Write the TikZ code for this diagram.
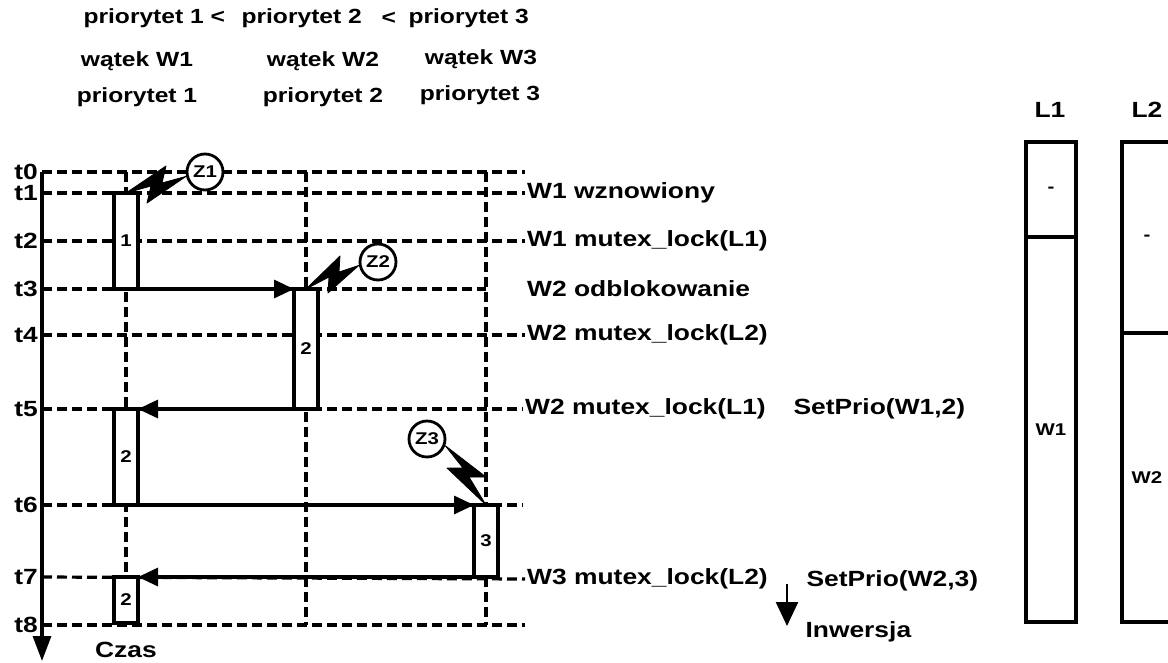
\documentclass[tikz,border=0pt]{standalone}
\usepackage{fontspec}
\setmainfont{Liberation Sans}[FakeStretch=1.2]
\usetikzlibrary{arrows.meta}

\tikzset{
  every node/.style={font=\bfseries\fontsize{22}{26}\selectfont},
  hfont/.style={font=\bfseries\fontsize{20.5}{24}\selectfont},
  tfont/.style={font=\bfseries\fontsize{22}{24}\selectfont, anchor=east, inner sep=4pt},
  small/.style={font=\bfseries\fontsize{17}{20}\selectfont},
  dline/.style={line width=3.2pt, dash pattern=on 10pt off 5pt},
  runbox/.style={draw, line width=3.2pt, fill=white, minimum width=24pt, inner sep=0pt, outer sep=0pt, small},
  lockbox/.style={draw, line width=3.2pt, minimum width=50pt, inner sep=0pt, outer sep=0pt, small},
  zcirc/.style={draw, fill=white, circle, line width=2.8pt, minimum size=36pt, inner sep=0pt, small},
  msg/.style={-{Triangle[length=20pt,width=18pt]}, line width=3.2pt},
  bolt/.style={fill=black, draw=black, line width=0.8pt, line join=round},
}

\begin{document}
\begin{tikzpicture}[x=1pt, y=-1pt]
    \useasboundingbox (0,0) rectangle (1168,662);

    % Priorities of the threads
    \node[hfont, anchor=west] (prio1) at (80,18) {priorytet 1 <};
    \node[hfont, anchor=west] (prio2) at (238,18) {priorytet 2};
    \node[hfont, anchor=west] (less2) at (378,18) {<};
    \node[hfont, anchor=west] (prio3) at (405,18) {priorytet 3};
    \node[hfont] (th1) at (137,61) {wątek W1};
    \node[hfont] (pr1) at (137,97) {priorytet 1};
    \node[hfont] (th2) at (323,61) {wątek W2};
    \node[hfont] (pr2) at (323,97) {priorytet 2};
    \node[hfont] (th3) at (481,59) {wątek W3};
    \node[hfont] (pr3) at (480,95) {priorytet 3};

    % Thread lines
    \coordinate (w1top) at (126,172); \coordinate (w1bot) at (126,625);
    \coordinate (w2top) at (306,172); \coordinate (w2bot) at (306,625);
    \coordinate (w3top) at (486,172); \coordinate (w3bot) at (486,625);
    \draw[dline] (w1top) -- (w1bot);
    \draw[dline] (w2top) -- (w2bot);
    \draw[dline] (w3top) -- (w3bot);

    % Time marks
    \node[tfont] (t0) at (42,172) {t0};
    \node[tfont] (t1) at (42,193) {t1};
    \node[tfont] (t2) at (42,241) {t2};
    \node[tfont] (t3) at (42,289) {t3};
    \node[tfont] (t4) at (42,335) {t4};
    \node[tfont] (t5) at (42,409) {t5};
    \node[tfont] (t6) at (42,505) {t6};
    \node[tfont] (t7) at (42,577) {t7};
    \node[tfont] (t8) at (42,625) {t8};

    % Events
    \node[anchor=west, inner sep=2pt] (ev1) at (525,193) {W1 wznowiony};
    \node[anchor=west, inner sep=2pt] (ev2) at (525,241) {W1 mutex\_lock(L1)};
    \node[anchor=west, inner sep=2pt] (ev3) at (525,289) {W2 odblokowanie};
    \node[anchor=west, inner sep=2pt] (ev4) at (525,335) {W2 mutex\_lock(L2)};
    \node[anchor=west, inner sep=2pt] (ev5) at (523,409) {W2 mutex\_lock(L1)};
    \node[anchor=west, inner sep=2pt] (ev7) at (525,579) {W3 mutex\_lock(L2)};
    \node[anchor=west] (prioA) at (790,409) {SetPrio(W1,2)};
    \node[anchor=west] (prioB) at (803,581) {SetPrio(W2,3)};
    \node[anchor=west] (inw) at (802,632) {Inwersja};
    \coordinate (e0) at (525,172);
    \coordinate (e3) at (486,289);
    \coordinate (e6) at (523,505);
    \coordinate (e8) at (525,625);

    % Dashed time lines
    \draw[dline] (t0.east) -- (e0);
    \draw[dline] (t1.east) -- (ev1.west);
    \draw[dline] (t2.east) -- (ev2.west);
    \draw[dline] (t3.east) -- (e3);
    \draw[dline] (t4.east) -- (ev4.west);
    \draw[dline] (t5.east) -- (ev5.west);
    \draw[dline] (t6.east) -- (e6);
    \draw[dline] (t7.east) -- (ev7.west);
    \draw[dline] (t8.east) -- (e8);

    % Time axis
    \coordinate (axtop) at (42,172);
    \coordinate (axbot) at (42,661);
    \draw[line width=3.2pt, -{Triangle[length=25pt,width=18pt]}] (axtop) -- (axbot);
    \node (czas) at (126,650) {Czas};

    % Running threads
    \node[runbox, minimum height=96pt] (b1) at (126,241) {1};
    \node[runbox, minimum height=120pt] (b2) at (306,349) {2};
    \node[runbox, minimum height=96pt] (b3) at (126,457) {2};
    \node[runbox, minimum height=72pt] (b4) at (486,541) {3};
    \node[runbox, minimum height=46pt] (b5) at (126,600) {2};

    % Switches
    \draw[msg] (b1.south east) -- (b2.north west);
    \draw[msg] (b2.south west) -- (b3.north east);
    \draw[msg] (b3.south east) -- (b4.north west);
    \draw[msg] (b4.south west) -- (b5.north east);

    % Interrupts
    \node[zcirc] (z1) at (205,172) {Z1};
    \node[zcirc] (z2) at (378,262) {Z2};
    \node[zcirc] (z3) at (427,439) {Z3};
    \fill[bolt] (b1.north) -- (166,166) -- (162,183) -- (z1.193) -- (147,203) -- (151,186) -- cycle;
    \fill[bolt] (b2.north) -- (340,256) -- (339,272) -- (z2.190) -- (328,293) -- (329,277) -- cycle;
    \fill[bolt] (b4.north) -- (447,468) -- (463,468) -- (z3.-20) -- (486,477) -- (469,477) -- cycle;

    % Inversion arrow
    \coordinate (inwtop) at (787,584);
    \coordinate (inwbot) at (787,626);
    \draw[line width=2.5pt, -{Triangle[length=24pt,width=22pt]}] (inwtop) -- (inwbot);

    % Mutexes
    \node (l1) at (1050,110) {L1};
    \node (l2) at (1147,110) {L2};
    \node[lockbox, minimum height=95pt] (l1free) at (1051,189.5) {-};
    \node[lockbox, minimum height=385pt] (l1own) at (1051,429.5) {W1};
    \node[lockbox, minimum height=191pt] (l2free) at (1147,237.5) {-};
    \node[lockbox, minimum height=289pt] (l2own) at (1147,477.5) {W2};
\end{tikzpicture}
\end{document}
